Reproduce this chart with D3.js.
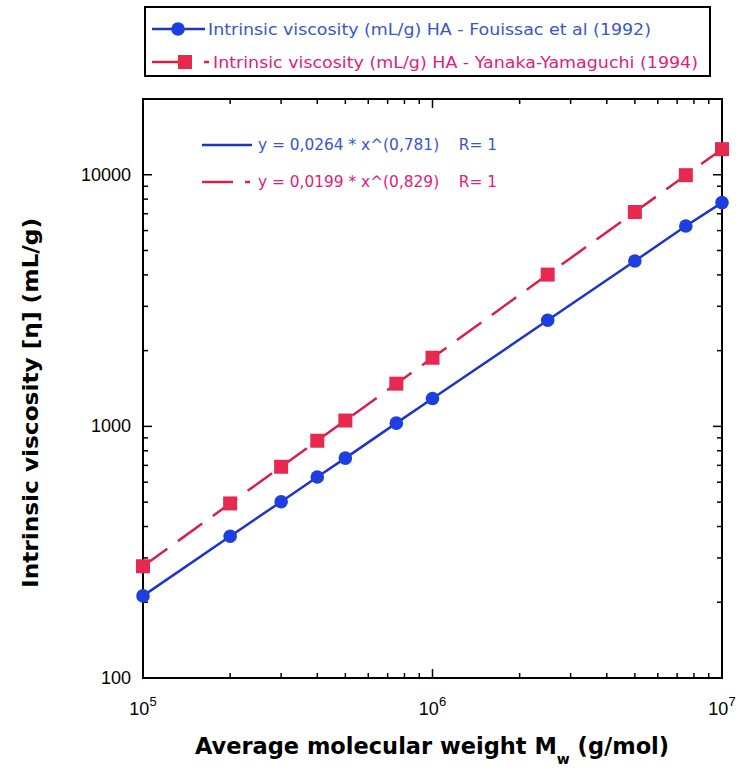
<!DOCTYPE html>
<html><head><meta charset="utf-8">
<script src="https://cdn.jsdelivr.net/npm/d3@7"></script>
<style>body{margin:0;background:#fff}svg{display:block}</style>
</head><body>
<script>
const mw = [1e5, 2e5, 3e5, 4e5, 5e5, 7.5e5, 1e6, 2.5e6, 5e6, 7.5e6, 1e7];
const fouissac = [212, 366, 502, 629, 748, 1030, 1290, 2640, 4540, 6260, 7750];
const yanaka = [278, 494, 691, 877, 1055, 1478, 1874, 4010, 7110, 9960, 12640];
const seriesNames = ["Intrinsic viscosity (mL/g) HA - Fouissac et al (1992)", "Intrinsic viscosity (mL/g) HA - Yanaka-Yamaguchi (1994)"];
const fitLabels = ["y = 0,0264 * x^(0,781)    R= 1", "y = 0,0199 * x^(0,829)    R= 1"];
const yTickValues = [100, 1000, 10000];
const xTickExps = [5, 6, 7];

const W = 743, H = 774;
const L = 143, R = 722, T = 99, B = 678;
const blue = "#1e3ee0", blueLine = "#1c35c8", red = "#e8294f", redLine = "#d8204a";
const blueText = "#3a55c8", redText = "#e0207a";

const svg = d3.select("body").append("svg").attr("width", W).attr("height", H);
const x = d3.scaleLog().domain([1e5, 1e7]).range([L, R]);
const y = d3.scaleLog().domain([100, 20000]).range([B, T]);

// ticks
const minorX = [];
for (let d = 1e5; d < 1e7; d *= 10) for (let k = 2; k <= 9; k++) minorX.push(k * d);
const majorX = xTickExps.map(e => Math.pow(10, e));
const minorY = [];
for (let d = 100; d < 20000; d *= 10) for (let k = 2; k <= 9; k++) if (k * d <= 20000) minorY.push(k * d);

const g = svg.append("g").attr("stroke", "#000").attr("stroke-width", 1.5);
[[B, -1], [T, 1]].forEach(([yy, dir]) => {
  minorX.forEach(v => g.append("line").attr("x1", x(v)).attr("x2", x(v)).attr("y1", yy).attr("y2", yy + dir * 5));
  majorX.forEach(v => g.append("line").attr("x1", x(v)).attr("x2", x(v)).attr("y1", yy).attr("y2", yy + dir * 9));
});
[[L, 1], [R, -1]].forEach(([xx, dir]) => {
  minorY.forEach(v => g.append("line").attr("y1", y(v)).attr("y2", y(v)).attr("x1", xx).attr("x2", xx + dir * 5));
  yTickValues.forEach(v => g.append("line").attr("y1", y(v)).attr("y2", y(v)).attr("x1", xx).attr("x2", xx + dir * 9));
});
svg.append("rect").attr("x", L).attr("y", T).attr("width", R - L).attr("height", B - T)
  .attr("fill", "none").attr("stroke", "#000").attr("stroke-width", 2);

// tick labels
svg.selectAll(".yl").data(yTickValues).join("text")
  .attr("x", L - 12).attr("y", d => y(d) + 6).attr("text-anchor", "end")
  .attr("font-family", "Liberation Sans, Arial, sans-serif").attr("font-size", 18).text(d => d);
xTickExps.forEach(e => {
  const t = svg.append("text").attr("x", x(Math.pow(10, e))).attr("y", 715).attr("text-anchor", "middle")
    .attr("font-family", "Liberation Sans, Arial, sans-serif").attr("font-size", 18);
  t.append("tspan").text("10");
  t.append("tspan").attr("dy", -9).attr("font-size", 13).text(e);
});

// axis titles
const xt = svg.append("text").attr("x", 432).attr("y", 754).attr("text-anchor", "middle")
  .attr("font-family", "DejaVu Sans, Verdana, sans-serif").attr("font-weight", "bold").attr("font-size", 22.5);
xt.append("tspan").text("Average molecular weight M");
xt.append("tspan").attr("dy", 10).attr("font-size", 14).text("w");
xt.append("tspan").attr("dy", -10).text(" (g/mol)");
svg.append("text").attr("transform", "translate(38,403) rotate(-90)").attr("text-anchor", "middle")
  .attr("font-family", "DejaVu Sans, Verdana, sans-serif").attr("font-weight", "bold").attr("font-size", 21.5)
  .attr("textLength", 370).attr("lengthAdjust", "spacingAndGlyphs")
  .text("Intrinsic viscosity [η] (mL/g)");

// lines
const pts = (ys) => mw.map((m, i) => [m, ys[i]]);
const line = d3.line().x(d => x(d[0])).y(d => y(d[1]));
svg.append("path").attr("d", line(pts(yanaka))).attr("fill", "none").attr("stroke", redLine)
  .attr("stroke-width", 2.5).attr("stroke-dasharray", "30,13");
svg.append("path").attr("d", line(pts(fouissac))).attr("fill", "none").attr("stroke", blueLine).attr("stroke-width", 2.5);
svg.selectAll(".sq").data(pts(yanaka)).join("rect")
  .attr("x", d => x(d[0]) - 7).attr("y", d => y(d[1]) - 7).attr("width", 14).attr("height", 14).attr("fill", red);
svg.selectAll(".ci").data(pts(fouissac)).join("circle")
  .attr("cx", d => x(d[0])).attr("cy", d => y(d[1])).attr("r", 6.8).attr("fill", blue);

// fit labels
svg.append("line").attr("x1", 202).attr("x2", 252).attr("y1", 145).attr("y2", 145).attr("stroke", blueLine).attr("stroke-width", 2.5);
svg.append("line").attr("x1", 202).attr("x2", 233).attr("y1", 182).attr("y2", 182).attr("stroke", redLine).attr("stroke-width", 2.5);
svg.append("line").attr("x1", 245).attr("x2", 250).attr("y1", 182).attr("y2", 182).attr("stroke", redLine).attr("stroke-width", 2.5);
[[fitLabels[0], 150, blueText], [fitLabels[1], 187, redText]].forEach(([t, yy, c]) => {
  svg.append("text").attr("x", 258).attr("y", yy).attr("fill", c)
    .attr("font-family", "DejaVu Sans, Verdana, sans-serif").attr("font-size", 15)
    .attr("textLength", 239).attr("lengthAdjust", "spacingAndGlyphs").style("white-space", "pre").text(t);
});

// legend
svg.append("rect").attr("x", 145).attr("y", 7).attr("width", 565).attr("height", 69)
  .attr("fill", "none").attr("stroke", "#000").attr("stroke-width", 2);
svg.append("line").attr("x1", 152).attr("x2", 205).attr("y1", 29).attr("y2", 29).attr("stroke", blueLine).attr("stroke-width", 2.5);
svg.append("circle").attr("cx", 178).attr("cy", 29).attr("r", 6.8).attr("fill", blue);
svg.append("line").attr("x1", 152).attr("x2", 185).attr("y1", 62).attr("y2", 62).attr("stroke", redLine).attr("stroke-width", 2.5);
svg.append("rect").attr("x", 178).attr("y", 55).attr("width", 14).attr("height", 14).attr("fill", red);
svg.append("line").attr("x1", 204).attr("x2", 209).attr("y1", 62).attr("y2", 62).attr("stroke", redLine).attr("stroke-width", 2.5);
[[seriesNames[0], 35, blueText, 208, 443], [seriesNames[1], 68, redText, 213, 485]].forEach(([t, yy, c, xx, len]) => {
  svg.append("text").attr("x", xx).attr("y", yy).attr("fill", c)
    .attr("font-family", "DejaVu Sans, Verdana, sans-serif").attr("font-size", 16.5)
    .attr("textLength", len).attr("lengthAdjust", "spacingAndGlyphs").text(t);
});
</script>
</body></html>
